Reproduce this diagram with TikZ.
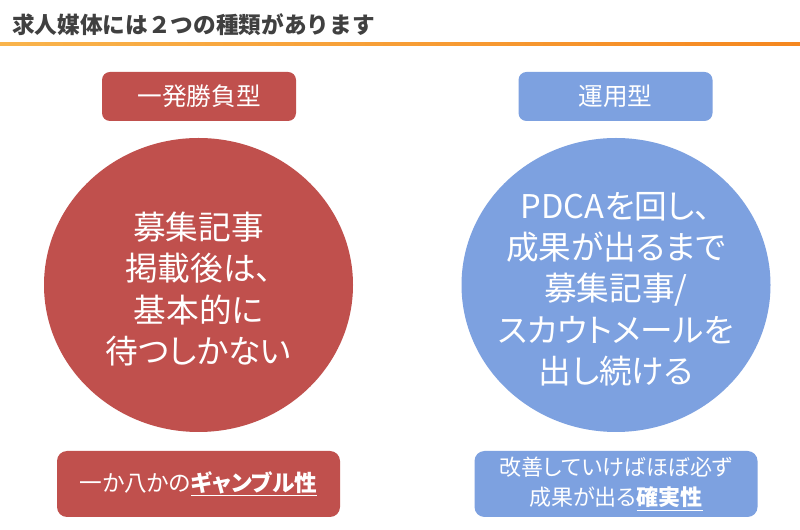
\documentclass[tikz,border=0pt]{standalone}
\usepackage{fontspec}
\setmainfont{Noto Sans CJK JP}[RawFeature=+palt]
\newfontfamily\titlefont{Noto Sans CJK JP}
\usetikzlibrary{shapes.geometric}
\definecolor{redc}{HTML}{C0504D}
\definecolor{bluec}{HTML}{7DA1E0}
\definecolor{orA}{HTML}{F9B44C}
\definecolor{orB}{HTML}{F5871F}
\definecolor{titlec}{HTML}{404040}
\tikzset{
  typebox/.style={rounded corners=6pt, minimum width={194*0.75pt}, minimum height={49*0.75pt}, inner sep=0pt, text=white, font=\fontsize{18.5}{22}\selectfont},
  bigcirc/.style={ellipse, minimum width={309*0.75pt}, minimum height={294*0.75pt}, inner sep=0pt},
  circtext/.style={text=white, align=center, inner sep=0pt, font=\fontsize{24.5}{31}\selectfont},
  resbox/.style={rounded corners=7.5pt, minimum width={283*0.75pt}, minimum height={66*0.75pt}, inner sep=0pt, text=white, align=center},
}
\begin{document}
\begin{tikzpicture}[x=0.75pt,y=-0.75pt]
\useasboundingbox[fill=white] (0,0) rectangle (800,530);
\node[anchor=west, inner sep=0pt, text=titlec, font=\titlefont\bfseries\fontsize{17}{20}\selectfont] (title) at (12,25) {求人媒体には２つの種類があります};
\shade[left color=orA, right color=orB] (0,43) rectangle (800,45.5);

\node[typebox, fill=redc] (ltype) at (199,96.5) {一発勝負型};
\node[typebox, fill=bluec] (rtype) at (615.5,96.5) {運用型};

\node[bigcirc, fill=redc] (lcirc) at (198.5,285) {};
\node[bigcirc, fill=bluec] (rcirc) at (616,285) {};
\node[circtext] (ltext) at (198.5,289) {募集記事\\掲載後は、\\基本的に\\待つしかない};
\node[circtext] (rtext) at (616,289) {PDCAを回し、\\成果が出るまで\\募集記事/\\スカウトメールを\\出し続ける};

\node[resbox, fill=redc, font=\fontsize{17}{21}\selectfont] (lres) at (198.5,484) {一か八かの\textbf{\underline{ギャンブル性}}};
\node[resbox, fill=bluec, font=\fontsize{16.5}{22.5}\selectfont] (rres) at (616,484) {改善していけばほぼ必ず\\成果が出る\textbf{\underline{確実性}}};
\end{tikzpicture}
\end{document}
